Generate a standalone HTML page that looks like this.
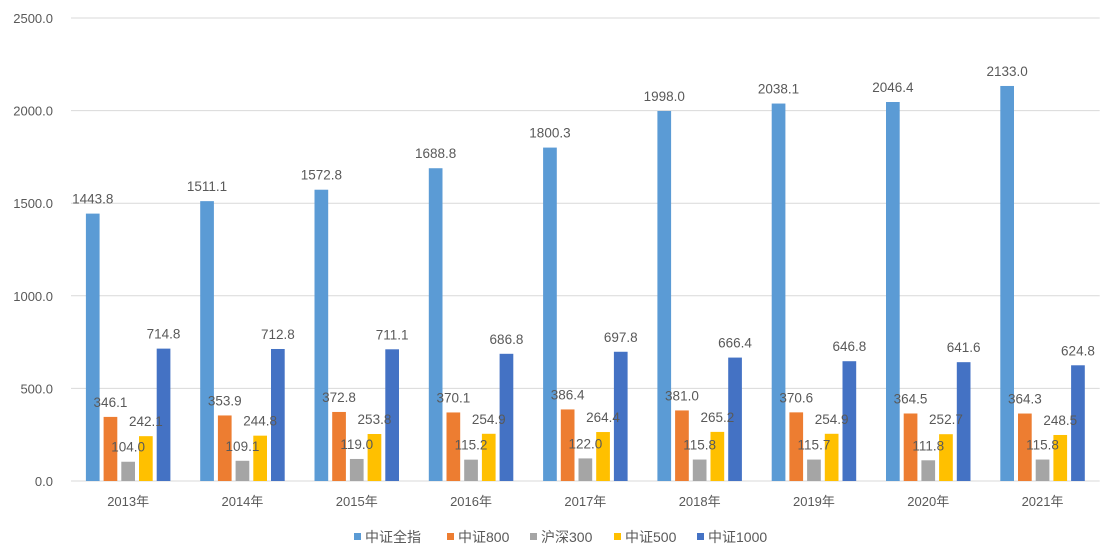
<!DOCTYPE html>
<html><head><meta charset="utf-8"><style>
body{margin:0;background:#fff;}
svg text{font-family:"Liberation Sans","Noto Sans CJK SC",sans-serif;fill:#595959;}
</style></head><body>
<svg id="c" width="1113" height="552" xmlns="http://www.w3.org/2000/svg"></svg>
<script>
const categories=["2013年","2014年","2015年","2016年","2017年","2018年","2019年","2020年","2021年"];
const seriesNames=["中证全指","中证800","沪深300","中证500","中证1000"];
const colors=["#5B9BD5","#ED7D31","#A5A5A5","#FFC000","#4472C4"];
const s0=[1443.8,1511.1,1572.8,1688.8,1800.3,1998.0,2038.1,2046.4,2133.0];
const s1=[346.1,353.9,372.8,370.1,386.4,381.0,370.6,364.5,364.3];
const s2=[104.0,109.1,119.0,115.2,122.0,115.8,115.7,111.8,115.8];
const s3=[242.1,244.8,253.8,254.9,264.4,265.2,254.9,252.7,248.5];
const s4=[714.8,712.8,711.1,686.8,697.8,666.4,646.8,641.6,624.8];
const yTicks=[0,500,1000,1500,2000,2500];
const series=[s0,s1,s2,s3,s4];
const NS="http://www.w3.org/2000/svg";
const svg=document.getElementById('c');
const x0=71,cw=114.3,y0=481,yTop=18,yMax=2500;
const y=v=>y0-(v/yMax)*(y0-yTop);
const xc=i=>x0+cw*(i+0.5);
function mk(t,a,p){const e=document.createElementNS(NS,t);for(const k in a)e.setAttribute(k,a[k]);(p||svg).appendChild(e);return e;}
yTicks.forEach(t=>{
  const l=mk('line',{x1:x0,x2:x0+cw*9,y1:y(t),y2:y(t),stroke:'#d9d9d9','stroke-width':1});
  
  
  const tx=mk('text',{x:53,y:y(t)+5,'text-anchor':'end','font-size':13});
  tx.textContent=t.toFixed(1);
  
  
});
const bw=13.7,step=17.7;
categories.forEach((c,i)=>{
  const t=mk('text',{x:xc(i),y:506,'text-anchor':'middle','font-size':13});
  t.textContent=c;
  
  
  series.forEach((s,j)=>{
    const cx=xc(i)+(j-2)*step;
    const r=mk('rect',{x:cx-bw/2,y:y(s[i]),width:bw,height:y0-y(s[i]),fill:colors[j]});
    
    
  });
});
categories.forEach((c,i)=>{
  series.forEach((s,j)=>{
    const cx=xc(i)+(j-2)*step;
    const lb=mk('text',{x:cx,y:y(s[i])-10,'text-anchor':'middle','font-size':13.5});
    lb.textContent=s[i].toFixed(1);
    
    
  });
});
const lx=[354,447,530,614,697];
seriesNames.forEach((n,j)=>{
  const g=mk('g',{});
  
  
  mk('rect',{x:lx[j],y:533,width:7,height:7,fill:colors[j]},g);
  const t=mk('text',{x:lx[j]+11,y:542,'font-size':14},g);
  t.textContent=n;
});
</script>
</body></html>
